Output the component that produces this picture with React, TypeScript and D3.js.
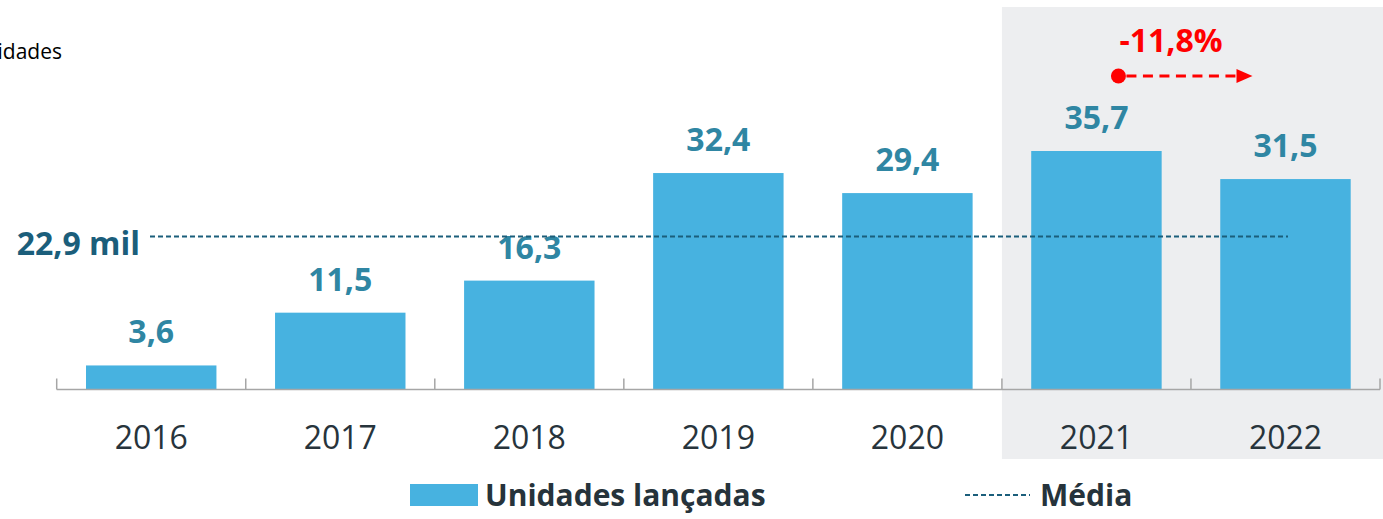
import React from "react";
import * as d3 from "d3";

const years = ["2016", "2017", "2018", "2019", "2020", "2021", "2022"];
const units = [3.6, 11.5, 16.3, 32.4, 29.4, 35.7, 31.5];
const average = 22.9;
const highlightYears = ["2021", "2022"];
const variationLabel = "-11,8%";

const W = 1383;
const H = 519;
const font = "'Open Sans', sans-serif";

const fmt = (v: number) => v.toFixed(1).replace(".", ",");

const App: React.FC = () => {
  const axisY = 389.5;
  const x = d3
    .scaleBand<string>()
    .domain(years)
    .range([56.7, 1380])
    .paddingInner(0.31)
    .paddingOuter(0.155);
  const y = d3.scaleLinear().domain([0, 35.7]).range([axisY, 151]);

  const step = x.step();
  const bw = x.bandwidth();
  const gap = (step - bw) / 2;
  const hlX = (x(highlightYears[0]) ?? 0) - gap;
  const cx0 = (x(highlightYears[0]) ?? 0) + bw / 2;
  const cx1 = (x(highlightYears[1]) ?? 0) + bw / 2;

  const tickXs = years
    .map((yr) => (x(yr) ?? 0) - gap)
    .concat([(x(years[years.length - 1]) ?? 0) + bw + gap]);

  return (
    <svg
      width={W}
      height={H}
      style={{ position: "absolute", left: 0, top: 0, background: "#fff" }}
      fontFamily={font}
    >
      {/* highlighted period */}
      <rect x={hlX} y={7} width={W - hlX} height={452} fill="#edeef0" />

      {/* cropped subtitle */}
      <text x={62} y={59} textAnchor="end" fontSize={21} fill="#000">
        Unidades
      </text>

      {/* bars */}
      {years.map((yr, i) => (
        <rect
          key={yr}
          x={x(yr)}
          y={y(units[i])}
          width={bw}
          height={axisY - y(units[i])}
          fill="#47b2e0"
        />
      ))}

      {/* axis */}
      <line x1={tickXs[0]} x2={tickXs[tickXs.length - 1]} y1={axisY} y2={axisY} stroke="#a6a6a6" strokeWidth={1.5} />
      {tickXs.map((tx, i) => (
        <line key={i} x1={tx} x2={tx} y1={axisY - 11} y2={axisY} stroke="#a6a6a6" strokeWidth={1.5} />
      ))}
      {years.map((yr) => (
        <text
          key={yr}
          x={(x(yr) ?? 0) + bw / 2}
          y={449}
          textAnchor="middle"
          fontSize={32}
          fill="#27343c"
        >
          {yr}
        </text>
      ))}

      {/* value labels */}
      {years.map((yr, i) => (
        <text
          key={yr}
          x={(x(yr) ?? 0) + bw / 2}
          y={y(units[i]) - 22}
          textAnchor="middle"
          fontSize={32}
          fontWeight="bold"
          fill="#2f86a3"
        >
          {fmt(units[i])}
        </text>
      ))}

      {/* average */}
      <line
        x1={150}
        x2={1288}
        y1={y(average)}
        y2={y(average)}
        stroke="#1b5e7b"
        strokeWidth={2}
        strokeDasharray="5,3"
      />
      <text x={140} y={y(average) + 18} textAnchor="end" fontSize={32} fontWeight="bold" fill="#1b5e7b">
        {fmt(average)} mil
      </text>

      {/* variation */}
      <text x={(cx0 + cx1) / 2 - 20} y={52} textAnchor="middle" fontSize={32} fontWeight="bold" fill="#ff0000">
        {variationLabel}
      </text>
      <circle cx={cx0 + 22} cy={76} r={7.5} fill="#ff0000" />
      <line
        x1={cx0 + 30}
        x2={cx1 - 48}
        y1={76}
        y2={76}
        stroke="#ff0000"
        strokeWidth={3}
        strokeDasharray="10,6.5"
      />
      <path d={`M${cx1 - 49},${69} L${cx1 - 33},${76} L${cx1 - 49},${83} Z`} fill="#ff0000" />

      {/* legend */}
      <rect x={410} y={484} width={68} height={22} fill="#47b2e0" />
      <text x={485} y={506} fontSize={30} fontWeight="bold" fill="#26333b">
        Unidades lançadas
      </text>
      <line x1={965} x2={1030} y1={495} y2={495} stroke="#1b5e7b" strokeWidth={2} strokeDasharray="5,3" />
      <text x={1040} y={506} fontSize={30} fontWeight="bold" fill="#26333b">
        Média
      </text>
    </svg>
  );
};

export default App;
